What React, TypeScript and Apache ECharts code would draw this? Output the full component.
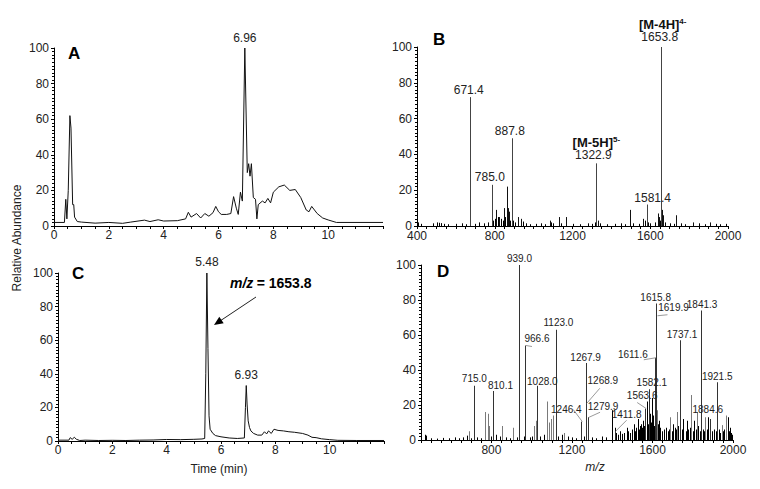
import React, { useEffect, useRef } from "react";
import * as echarts from "echarts";

const FONT = "'Liberation Sans', Arial, Helvetica, sans-serif";

// ---------- Panel A: total ion chromatogram [time (min), relative abundance] ----------
const traceA: number[][] = [
  [0, 2], [0.38, 2], [0.43, 15], [0.47, 4], [0.52, 20], [0.58, 62], [0.62, 55], [0.68, 12],
  [0.72, 12], [0.75, 5], [0.85, 2.5], [1.0, 2.2], [1.5, 1.6], [2.0, 2], [2.5, 1.5], [2.8, 2.2],
  [3.3, 3.3], [3.5, 2.5], [3.8, 3.5], [4.0, 2.8], [4.5, 3], [4.8, 4], [4.9, 7.7], [5.0, 5],
  [5.2, 7], [5.35, 4.5], [5.5, 7], [5.65, 5.5], [5.8, 7.5], [5.9, 11], [6.0, 8], [6.1, 6.5],
  [6.3, 6.5], [6.45, 7], [6.55, 16.5], [6.65, 10], [6.72, 6.5], [6.8, 19], [6.87, 14],
  [6.96, 100], [7.05, 30], [7.1, 35], [7.15, 28], [7.2, 35], [7.27, 16], [7.35, 15], [7.4, 4],
  [7.45, 12], [7.6, 14], [7.7, 13], [7.8, 15.5], [7.9, 13], [8.0, 19], [8.2, 22], [8.4, 23],
  [8.6, 20], [8.8, 20.5], [9.0, 16], [9.2, 9], [9.3, 8], [9.4, 11], [9.6, 7], [9.8, 4.5],
  [10.0, 3.4], [10.3, 2], [12, 2],
];
const peaksA: number[][] = [[6.96, 100]];

// ---------- Panel C: extracted ion chromatogram m/z 1653.8 ----------
const traceC: number[][] = [
  [0, 0.5], [0.4, 0.5], [0.45, 2], [0.52, 1], [0.6, 2.2], [0.68, 1], [0.8, 0.3], [1.0, 0.5],
  [1.5, 0.3], [2.0, 0.4], [2.5, 0.3], [3.0, 0.5], [3.5, 0.6], [4.0, 0.9], [4.5, 0.8], [5.0, 1],
  [5.3, 1.2], [5.4, 1.5], [5.44, 40], [5.48, 100], [5.52, 55], [5.56, 15], [5.6, 7], [5.7, 4.5],
  [5.8, 3.2], [6.0, 2.5], [6.3, 1.8], [6.6, 1.5], [6.86, 1.8], [6.9, 20], [6.93, 33], [6.96, 22],
  [7.0, 12], [7.05, 8], [7.1, 6], [7.2, 4.5], [7.35, 3.5], [7.5, 3.5], [7.6, 5.5], [7.68, 4.2],
  [7.75, 6], [7.85, 4.5], [7.95, 7], [8.1, 6.3], [8.3, 6], [8.5, 5.5], [8.7, 5.2], [9.0, 4.5],
  [9.2, 3.5], [9.35, 2.2], [9.5, 2], [9.7, 1.3], [10.0, 0.8], [10.3, 0.4], [11.0, 0.3], [12, 0.3],
];
const peaksC: number[][] = [[5.48, 100], [6.93, 33]];

// ---------- Panel B: mass spectrum at 6.96 min [m/z, relative abundance] ----------
const specBLabeled: number[][] = [
  [671.4, 72], [785.0, 23], [887.8, 49], [1322.9, 35], [1581.4, 12], [1653.8, 100],
];
const specBOther: number[][] = [
  [809, 9], [822, 5], [847, 10], [862, 22], [870, 10], [875, 8], [920, 5], [935, 4], [1083, 3],
  [1128, 5], [1168, 5], [1330, 3], [1495, 9], [1497, 8], [1565, 4], [1638, 7], [1645, 5],
  [1662, 9], [1668, 6], [1735, 6], [1818, 2], [1905, 2],
];
const specBNoise: number[][] = [
  [403, 2], [420, 1.2], [480, 1.5], [505, 2], [512, 1.8], [525, 1.6], [540, 1.2], [560, 1],
  [600, 1.2], [630, 1.5], [650, 1], [700, 1.2], [720, 2], [745, 1.5], [765, 2], [790, 3],
  [800, 4], [815, 5], [830, 4], [840, 3], [855, 5], [880, 3], [895, 3], [905, 2], [945, 2.5],
  [960, 1.5], [980, 1], [1010, 1.2], [1040, 1.5], [1060, 1], [1090, 2], [1100, 1.5],
  [1140, 1.5], [1200, 1.2], [1240, 1], [1280, 1.5], [1300, 1.2], [1315, 2], [1340, 1.5],
  [1380, 1], [1420, 1.2], [1450, 1.5], [1470, 1], [1510, 1.5], [1540, 1.2], [1575, 3],
  [1590, 2], [1600, 1.5], [1625, 2], [1650, 3], [1675, 2], [1700, 1.5], [1720, 1.2],
  [1760, 1.5], [1780, 1], [1850, 1.5], [1880, 1], [1940, 1.2], [1960, 1], [1990, 1.2],
];
const ionsB: Record<string, [string, string]> = {
  "1322.9": ["M-5H", "5-"],
  "1653.8": ["M-4H", "4-"],
};

// ---------- Panel D: MS/MS spectrum of m/z 1653.8 ----------
const specDLabeled: number[][] = [
  [715.0, 31], [810.1, 28], [939.0, 100], [966.6, 54], [1028.0, 31], [1123.0, 63],
  [1246.4, 10.5], [1267.9, 44], [1268.9, 21], [1279.9, 13], [1411.8, 5], [1563.6, 18],
  [1582.1, 29], [1611.6, 47], [1615.8, 78], [1619.9, 71], [1737.1, 57], [1841.3, 74],
  [1884.6, 12], [1921.5, 33],
];
const specDGray: number[][] = [
  [690, 5], [770, 16], [782, 15], [790, 8], [852, 8], [908, 7], [1012, 8], [1020, 11],
  [1075, 22], [1085, 10], [1095, 12], [1105, 14], [1162, 4], [1622, 17], [1688, 13],
  [1721, 16], [1792, 25.7], [1820, 16], [1861, 13], [1944, 8.5], [1965, 14],
];
const specDBlack: number[][] = [
  [1398, 17], [1415, 7], [1473, 7], [1506, 9], [1530, 12], [1540, 8], [1555, 11], [1572, 22],
  [1590, 15], [1597, 24], [1605, 14], [1630, 11], [1701, 9], [1736, 24], [1754, 12],
  [1770, 11], [1807, 11], [1877, 13], [1974, 13], [1985, 7],
];
const specDNoise: number[][] = [
  [470, 3], [475, 2.5], [500, 1], [530, 0.8], [560, 1.2], [590, 1], [620, 1.5], [640, 1],
  [660, 1.5], [680, 2.5], [700, 1], [730, 1.5], [750, 1], [800, 2], [825, 3], [840, 2],
  [870, 1.5], [890, 1], [925, 1.5], [960, 2], [990, 1.5], [1000, 2], [1040, 2], [1060, 3],
  [1130, 2], [1150, 3], [1180, 2], [1200, 1.5], [1220, 1], [1260, 2], [1300, 1.5], [1320, 1],
  [1350, 2], [1370, 1.5], [1400, 3], [1420, 4], [1430, 3], [1440, 5], [1450, 3.5], [1460, 4],
  [1480, 5], [1490, 4], [1500, 6], [1515, 5], [1520, 7], [1535, 6], [1545, 9], [1550, 7],
  [1560, 8], [1565, 10], [1580, 9], [1585, 12], [1595, 10], [1610, 8], [1625, 9], [1635, 7],
  [1645, 5], [1655, 6], [1665, 7], [1675, 5], [1680, 6], [1695, 5], [1710, 7], [1715, 6],
  [1725, 8], [1745, 6], [1750, 7], [1765, 5], [1775, 6], [1785, 7], [1800, 5], [1815, 6],
  [1825, 8], [1835, 5], [1850, 6], [1855, 5], [1870, 6], [1885, 7], [1895, 5], [1905, 6],
  [1915, 5], [1930, 6], [1935, 4], [1950, 5], [1955, 6], [1980, 5], [1990, 4], [1995, 3],
];

// ---------- label layout (pixel offsets of label centre from the peak apex) ----------
type Lay = { dx: number; dy: number; lead?: [number, number] };
const layoutB: Record<string, Lay> = {
  "671.4": { dx: -1, dy: -7 },
  "785.0": { dx: -2, dy: -8 },
  "887.8": { dx: -2, dy: -7 },
  "1322.9": { dx: -3, dy: -8 },
  "1581.4": { dx: 6, dy: -7 },
  "1653.8": { dx: -1, dy: -10 },
};
const layoutD: Record<string, Lay> = {
  "715.0": { dx: 0, dy: -7 },
  "810.1": { dx: 7, dy: -6 },
  "939.0": { dx: 0, dy: -7 },
  "966.6": { dx: 12, dy: -7, lead: [7, 1] },
  "1028.0": { dx: 5, dy: -4 },
  "1123.0": { dx: 2, dy: -7 },
  "1246.4": { dx: -15, dy: -12, lead: [-8, -12] },
  "1267.9": { dx: 0, dy: -6 },
  "1268.9": { dx: 17, dy: -23, lead: [14, -15] },
  "1279.9": { dx: 15, dy: -11, lead: [12, -5] },
  "1411.8": { dx: 12, dy: -17, lead: [12, -11] },
  "1563.6": { dx: -3, dy: -13, lead: [-8, -6] },
  "1582.1": { dx: 3, dy: -7 },
  "1611.6": { dx: -22, dy: -3, lead: [-11, 2] },
  "1615.8": { dx: 0, dy: -6 },
  "1619.9": { dx: 17, dy: -8, lead: [11, -1] },
  "1737.1": { dx: 2, dy: -6 },
  "1841.3": { dx: 1, dy: -6 },
  "1884.6": { dx: -2, dy: -10 },
  "1921.5": { dx: 0, dy: -6 },
};

function stickSeries(idx: number, data: number[][], color: string, width = 1, z = 2) {
  return {
    type: "custom",
    xAxisIndex: idx,
    yAxisIndex: idx,
    data,
    silent: true,
    z,
    encode: { x: 0, y: 1 },
    renderItem: (_p: any, api: any) => {
      const base = api.coord([api.value(0), 0]);
      const top = api.coord([api.value(0), api.value(1)]);
      const x = Math.round(base[0]) + 0.5;
      return {
        type: "line",
        shape: { x1: x, y1: base[1], x2: x, y2: top[1] },
        style: { stroke: color, lineWidth: width },
      };
    },
  };
}

function labelSeries(
  idx: number,
  data: number[][],
  texts: string[],
  layout: Record<string, Lay>,
  fontSize: number,
  def: Lay,
  ions?: Record<string, [string, string]>
) {
  return {
    type: "custom",
    xAxisIndex: idx,
    yAxisIndex: idx,
    data,
    silent: true,
    clip: false,
    z: 6,
    encode: { x: 0, y: 1 },
    renderItem: (params: any, api: any) => {
      const text = texts[params.dataIndex];
      const lay = layout[text] || def;
      const p = api.coord([api.value(0), api.value(1)]);
      const cx = p[0] + lay.dx;
      const cy = p[1] + lay.dy;
      const children: any[] = [];
      if (lay.lead) {
        children.push({
          type: "line",
          shape: { x1: p[0] + 1, y1: p[1], x2: p[0] + lay.lead[0], y2: p[1] + lay.lead[1] },
          style: { stroke: "#9a9a9a", lineWidth: 1 },
        });
      }
      children.push({
        type: "text",
        x: cx,
        y: cy,
        style: { text, fontSize, fontFamily: FONT, fill: "#222", align: "center", verticalAlign: "middle" },
      });
      const ion = ions && ions[text];
      if (ion) {
        children.push({
          type: "text",
          x: cx + 3,
          y: cy - 13,
          style: {
            text: `{b|[${ion[0]}]}{s|${ion[1]}}`,
            align: "center",
            verticalAlign: "middle",
            rich: {
              b: { fontSize: 13, fontWeight: "bold", fontFamily: FONT, fill: "#111" },
              s: { fontSize: 8, fontWeight: "bold", fontFamily: FONT, fill: "#111", verticalAlign: "top" },
            },
          },
        });
      }
      return { type: "group", children };
    },
  };
}

const axisLineStyle = { lineStyle: { color: "#000", width: 1 } };
const labelStyle = { color: "#222", fontSize: 12, fontFamily: FONT };
const plain = (v: number) => String(v);

function yAxis(gridIndex: number) {
  return {
    type: "value",
    gridIndex,
    min: 0,
    max: 100,
    interval: 20,
    axisLine: { show: true, ...axisLineStyle },
    axisTick: { show: true, length: 3, lineStyle: { color: "#000" } },
    minorTick: { show: true, splitNumber: 10, length: 2, lineStyle: { color: "#000" } },
    axisLabel: { ...labelStyle, margin: 5, formatter: plain },
    splitLine: { show: false },
    minorSplitLine: { show: false },
  };
}

function timeAxis(gridIndex: number) {
  return {
    type: "value",
    gridIndex,
    min: 0,
    max: 12,
    interval: 2,
    axisLine: { show: true, onZero: false, ...axisLineStyle },
    axisTick: { show: true, length: 3, lineStyle: { color: "#000" } },
    minorTick: { show: true, splitNumber: 4, length: 3, lineStyle: { color: "#000" } },
    axisLabel: { ...labelStyle, margin: 3, showMaxLabel: false, formatter: plain },
    splitLine: { show: false },
    minorSplitLine: { show: false },
  };
}

const fmt1 = (d: number[][]) => d.map((v) => v[0].toFixed(1));
const fmt2 = (d: number[][]) => d.map((v) => v[0].toFixed(2));

function buildOption() {
  return {
    animation: false,
    backgroundColor: "#fff",
    grid: [
      { left: 54, top: 48, width: 329, height: 178, outerBoundsMode: "none" },
      { left: 417, top: 47, width: 311, height: 179, outerBoundsMode: "none" },
      { left: 58, top: 273, width: 326, height: 168, outerBoundsMode: "none" },
      { left: 421, top: 265, width: 312, height: 175, outerBoundsMode: "none" },
    ],
    xAxis: [
      timeAxis(0),
      {
        type: "value",
        gridIndex: 1,
        min: 400,
        max: 2000,
        interval: 400,
        axisLine: { show: true, onZero: false, ...axisLineStyle },
        axisTick: { show: true, length: 3, lineStyle: { color: "#000" } },
        minorTick: { show: true, splitNumber: 8, length: 3, lineStyle: { color: "#000" } },
        axisLabel: { ...labelStyle, margin: 4, formatter: plain },
        splitLine: { show: false },
        minorSplitLine: { show: false },
      },
      timeAxis(2),
      {
        type: "value",
        gridIndex: 3,
        min: 450,
        max: 2000,
        interval: 50,
        axisLine: { show: true, onZero: false, ...axisLineStyle },
        axisTick: { show: true, length: 3, interval: 0, lineStyle: { color: "#000" } },
        axisLabel: {
          ...labelStyle,
          margin: 4,
          interval: 0,
          formatter: (v: number) => (v % 400 === 0 ? String(v) : ""),
        },
        splitLine: { show: false },
      },
    ],
    yAxis: [yAxis(0), yAxis(1), yAxis(2), yAxis(3)],
    series: [
      {
        type: "line",
        xAxisIndex: 0,
        yAxisIndex: 0,
        data: traceA,
        showSymbol: false,
        silent: true,
        lineStyle: { color: "#111", width: 1 },
      },
      labelSeries(0, peaksA, fmt2(peaksA), {}, 12, { dx: 0, dy: -10 }),
      {
        type: "line",
        xAxisIndex: 2,
        yAxisIndex: 2,
        data: traceC,
        showSymbol: false,
        silent: true,
        lineStyle: { color: "#111", width: 1 },
      },
      labelSeries(2, peaksC, fmt2(peaksC), {}, 12, { dx: 0, dy: -11 }),
      stickSeries(1, specBNoise, "#000", 1),
      stickSeries(1, specBOther, "#111", 1),
      stickSeries(1, specBLabeled, "#444", 1),
      labelSeries(1, specBLabeled, fmt1(specBLabeled), layoutB, 12, { dx: 0, dy: -7 }, ionsB),
      stickSeries(3, specDGray, "#7a7a7a", 1),
      stickSeries(3, specDNoise, "#000", 1),
      stickSeries(3, specDBlack, "#000", 1),
      stickSeries(3, specDLabeled, "#333", 1),
      labelSeries(3, specDLabeled, fmt1(specDLabeled), layoutD, 10, { dx: 0, dy: -6 }),
    ],
    graphic: [
      { type: "text", left: 68, top: 45, style: { text: "A", fontSize: 17, fontWeight: "bold", fontFamily: FONT, fill: "#000" } },
      { type: "text", left: 433, top: 31, style: { text: "B", fontSize: 17, fontWeight: "bold", fontFamily: FONT, fill: "#000" } },
      { type: "text", left: 72, top: 265, style: { text: "C", fontSize: 17, fontWeight: "bold", fontFamily: FONT, fill: "#000" } },
      { type: "text", left: 437, top: 263, style: { text: "D", fontSize: 17, fontWeight: "bold", fontFamily: FONT, fill: "#000" } },
      {
        type: "text",
        x: 17,
        y: 238,
        rotation: Math.PI / 2,
        style: { text: "Relative Abundance", fontSize: 12, fontFamily: FONT, fill: "#222", align: "center", verticalAlign: "middle" },
      },
      {
        type: "text",
        x: 219,
        y: 469,
        style: { text: "Time (min)", fontSize: 12, fontFamily: FONT, fill: "#222", align: "center", verticalAlign: "middle" },
      },
      {
        type: "text",
        x: 595,
        y: 467,
        style: { text: "m/z", fontSize: 12, fontStyle: "italic", fontFamily: FONT, fill: "#222", align: "center", verticalAlign: "middle" },
      },
      {
        type: "text",
        x: 230,
        y: 283,
        style: {
          text: "{i|m/z} {b|= 1653.8}",
          align: "left",
          verticalAlign: "middle",
          rich: {
            i: { fontSize: 14, fontWeight: "bold", fontStyle: "italic", fontFamily: FONT, fill: "#000" },
            b: { fontSize: 14, fontWeight: "bold", fontFamily: FONT, fill: "#000" },
          },
        },
      },
      {
        type: "line",
        shape: { x1: 256, y1: 297, x2: 220, y2: 321 },
        style: { stroke: "#222", lineWidth: 1 },
      },
      {
        type: "polygon",
        shape: { points: [[214, 325], [223.7, 323.3], [219.3, 316.7]] },
        style: { fill: "#000" },
      },
    ],
  };
}

export default function App() {
  const ref = useRef<HTMLDivElement>(null);
  useEffect(() => {
    if (!ref.current) return;
    const chart = echarts.init(ref.current, null, { renderer: "svg" });
    chart.setOption(buildOption() as any);
    return () => chart.dispose();
  }, []);
  return (
    <div
      ref={ref}
      style={{ position: "fixed", left: 0, top: 0, width: 760, height: 489, background: "#fff" }}
    />
  );
}
